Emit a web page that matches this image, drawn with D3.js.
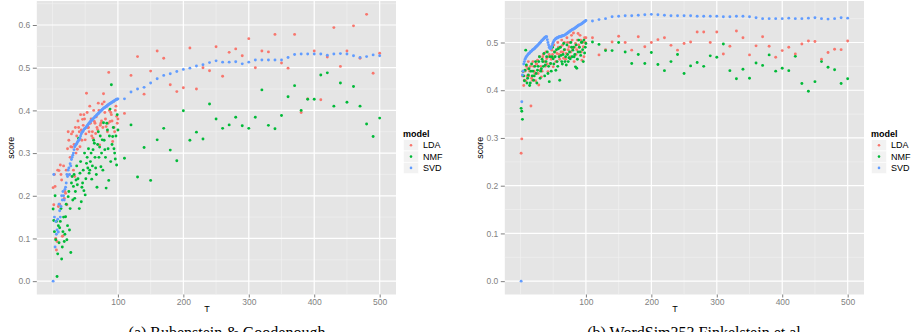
<!DOCTYPE html>
<html>
<head>
<meta charset="utf-8">
<script src="https://cdn.jsdelivr.net/npm/d3@7"></script>
<style>
  body { margin: 0; background: #fff; }
  svg { display: block; }
  .tick text { fill: #7f7f7f; font-size: 8.5px; font-family: "Liberation Sans", Arial, sans-serif; }
  .tick line { stroke: #7f7f7f; }
  .lab { font-family: "Liberation Sans", Arial, sans-serif; font-size: 9px; fill: #000; }
  .cap { font-family: "Liberation Serif", "Times New Roman", serif; font-size: 16px; fill: #000; }
</style>
</head>
<body>
<div id="chart"></div>
<script>
const width = 916
const height = 332

// T values: every 2 up to 100 (plus 1..10), then every 10; odd T values listed separately
const tDense = [1,2,3,4,5,6,7,8,9,10,12,14,16,18,20,22,24,26,28,30,32,34,36,38,40,42,44,46,48,50,
                52,54,56,58,60,62,64,66,68,70,72,74,76,78,80,82,84,86,88,90,92,94,96,98,100]
const tSparse = [110,120,130,140,150,160,170,180,190,200,210,220,230,240,250,260,270,280,290,300,
                 310,320,330,340,350,360,370,380,390,400,410,420,430,440,450,460,470,480,490,500]
const tOdd = [11,13,15,17,19,21,23,25,27,29,31,33,35,37,39,41,43,45,47,49,51,53,55,57,59,
              61,63,65,67,69,71,73,75,77,79,81,83,85,87,89,91,93,95,97,99]
const tValues = tDense.concat(tSparse, tOdd)

const models = ["LDA", "NMF", "SVD"]
const modelColors = ["#F8766D", "#00BA38", "#619CFF"]
const xTicks = [100, 200, 300, 400, 500]
const yTicksA = [0, 0.1, 0.2, 0.3, 0.4, 0.5, 0.6]
const yTicksB = [0, 0.1, 0.2, 0.3, 0.4, 0.5]
const captions = ["(a) Rubenstein & Goodenough", "(b) WordSim353 Finkelstein et al."]

// --- panel (a) ---
const ldaA = [.219,.179,.25,.222,.10,.073,.093,.26,.175,.259,
  .272,.237,.106,.194,.206,.179,.35,.249,.315,.314,
  .26,.245,.30,.309,.36,.315,.354,.379,.39,.331,
  .44,.36,.35,.37,.34,.335,.374,.346,.36,.417,
  .319,.37,.415,.439,.395,.362,.35,.489,.374,.39,
  .327,.36,.40,.386,.38,
  .393,.482,.526,.438,.492,.539,.522,.46,.444,.453,
  .546,.45,.5,.493,.549,.48,.536,.544,.528,.568,
  .5,.539,.537,.578,.511,.499,.578,.395,.427,.539,
  .425,.525,.594,.503,.539,.598,.522,.625,.487,.534]
const ldaAOdd = [.18,.25,.105,.27,.21,.26,.31,.33,.29,.345,.35,.32,.36,.34,.375,
  .35,.39,.33,.365,.38,.345,.395,.36,.41,.38,.35,.4,.37,.385,.355,
  .4,.365,.375,.36,.42,.38,.41,.37,.4,.395,.375,.42,.35,.41,.37]
const nmfA = [.169,.142,.116,.20,.097,.14,.011,.064,.13,.09,
  .14,.052,.116,.093,.151,.097,.198,.12,.067,.245,
  .222,.194,.237,.226,.335,.253,.186,.23,.212,.202,
  .276,.265,.253,.28,.239,.308,.323,.265,.22,.35,
  .314,.268,.331,.371,.308,.218,.354,.236,.403,.46,
  .339,.31,.286,.272,.354,
  .288,.366,.244,.313,.236,.331,.358,.307,.282,.399,
  .33,.349,.333,.415,.38,.358,.366,.384,.364,.358,
  .384,.448,.365,.357,.388,.432,.458,.4,.426,.426,
  .483,.488,.41,.464,.419,.456,.41,.368,.339,.382]
const nmfAOdd = [.125,.17,.08,.15,.11,.18,.13,.21,.17,.23,.19,.25,.21,.27,.24,
  .17,.28,.22,.26,.3,.24,.29,.31,.26,.3,.27,.33,.29,.25,.32,
  .29,.34,.3,.26,.33,.29,.37,.31,.34,.28,.32,.36,.3,.34,.39]
const svdA = [0,.25,.15,.08,.14,.11,.12,.145,.115,.18,
  .15,.2,.21,.19,.22,.25,.26,.25,.27,.29,
  .3,.315,.32,.325,.33,.335,.345,.35,.355,.358,
  .362,.366,.37,.374,.377,.38,.383,.386,.39,.393,
  .396,.399,.402,.405,.407,.409,.412,.414,.416,.418,
  .42,.422,.424,.426,.427,
  .427,.443,.45,.454,.464,.474,.482,.486,.491,.496,
  .499,.504,.507,.512,.516,.513,.513,.514,.509,.513,
  .518,.518,.518,.518,.518,.524,.531,.532,.532,.532,
  .532,.529,.532,.533,.532,.528,.524,.526,.53,.528]
const svdAOdd = [.165,.175,.19,.2,.215,.23,.245,.265,.275,.285,.295,.308,.318,.322,.328,
  .332,.34,.348,.352,.357,.36,.364,.368,.372,.375,.378,.382,.385,.388,.391,
  .394,.397,.4,.403,.406,.408,.41,.413,.415,.417,.419,.421,.423,.425,.426]

// --- panel (b) ---
const ldaB = [.268,.298,.43,.439,.41,.421,.44,.42,.45,.43,
  .46,.44,.367,.421,.45,.435,.455,.463,.411,.442,
  .428,.47,.46,.45,.466,.439,.475,.455,.484,.449,
  .47,.46,.477,.49,.465,.48,.494,.467,.485,.477,
  .5,.491,.47,.515,.487,.46,.498,.485,.519,.49,
  .505,.463,.491,.51,.51,
  .51,.474,.485,.501,.513,.5,.484,.512,.491,.5,
  .506,.51,.494,.484,.498,.501,.522,.522,.5,.522,
  .476,.492,.524,.51,.474,.493,.512,.492,.469,.483,
  .49,.476,.497,.503,.502,.465,.479,.486,.485,.503]
const ldaBOdd = [.445,.43,.45,.425,.46,.44,.42,.455,.435,.47,.45,.44,.475,.46,.48,
  .455,.47,.49,.465,.475,.495,.48,.46,.5,.475,.49,.505,.48,.5,.465,
  .51,.485,.5,.48,.505,.52,.49,.475,.505,.495,.515,.48,.5,.47,.5]
const nmfB = [.362,.356,.339,.44,.43,.42,.442,.484,.453,.415,
  .432,.41,.44,.43,.421,.45,.435,.442,.46,.425,
  .445,.46,.477,.453,.47,.435,.418,.456,.47,.466,
  .48,.442,.46,.487,.421,.473,.455,.498,.46,.453,
  .475,.468,.466,.49,.484,.47,.449,.446,.48,.49,
  .473,.501,.46,.478,.498,
  .501,.496,.483,.483,.5,.48,.456,.475,.456,.479,
  .454,.441,.46,.475,.435,.451,.458,.45,.472,.469,
  .497,.441,.424,.444,.425,.457,.452,.474,.44,.446,
  .441,.471,.414,.398,.418,.46,.448,.443,.414,.424]
const nmfBOdd = [.425,.445,.415,.455,.44,.43,.46,.415,.45,.47,.44,.465,.45,.43,.46,
  .48,.45,.47,.44,.49,.455,.47,.485,.45,.47,.49,.46,.475,.485,.47,
  .495,.46,.48,.5,.47,.49,.475,.495,.465,.505,.48,.5,.485,.505,.49]
const svdB = [0,.376,.432,.44,.455,.46,.465,.468,.47,.472,
  .476,.478,.481,.484,.486,.488,.491,.494,.497,.5,
  .503,.506,.509,.511,.512,.5,.49,.487,.493,.5,
  .505,.508,.51,.511,.512,.513,.514,.515,.516,.518,
  .52,.522,.524,.526,.528,.529,.531,.533,.535,.537,
  .538,.54,.542,.544,.546,
  .545,.548,.55,.554,.555,.556,.556,.557,.558,.559,
  .558,.557,.556,.556,.556,.556,.555,.555,.555,.555,
  .554,.554,.555,.555,.554,.552,.55,.55,.55,.55,
  .551,.55,.55,.551,.552,.55,.549,.55,.552,.551]
const svdBOdd = [.474,.477,.48,.482,.485,.487,.49,.492,.495,.498,.501,.504,.507,.51,.512,
  .506,.495,.488,.49,.497,.503,.507,.509,.51,.512,.512,.513,.514,.515,.517,
  .519,.521,.523,.525,.527,.528,.53,.532,.534,.536,.537,.539,.541,.543,.545]

const svg = d3.select("#chart")
              .append("svg")
                .attr("width", width)
                .attr("height", height)

// ggplot style 5% expansion of the data range
const expand = ext => {
  const pad = (ext[1] - ext[0]) * 0.05
  return [ext[0] - pad, ext[1] + pad]
}

const drawPanel = (p) => {
  const allY = p.series.flat()
  const xScale = d3.scaleLinear()
                   .domain(expand(d3.extent(tValues)))
                   .range([p.left, p.right])
  const yScale = d3.scaleLinear()
                   .domain(expand(d3.extent(allY)))
                   .range([p.bottom, p.top])

  const g = svg.append("g")

  // panel background
  g.append("rect")
   .attr("x", p.left)
   .attr("y", p.top)
   .attr("width", p.right - p.left)
   .attr("height", p.bottom - p.top)
   .attr("fill", "#E5E5E5")

  // minor grid
  const xMinor = [0, 50, 150, 250, 350, 450]
  const yMinor = p.yTicks.map(d => d + 0.05)
                  .filter(d => d >= yScale.domain()[0] && d <= yScale.domain()[1])
  g.selectAll(".xminor").data(xMinor).join("line")
   .attr("x1", d => xScale(d)).attr("x2", d => xScale(d))
   .attr("y1", p.top).attr("y2", p.bottom)
   .attr("stroke", "#F2F2F2").attr("stroke-width", 0.6)
  g.selectAll(".yminor").data(yMinor).join("line")
   .attr("y1", d => yScale(d)).attr("y2", d => yScale(d))
   .attr("x1", p.left).attr("x2", p.right)
   .attr("stroke", "#F2F2F2").attr("stroke-width", 0.6)

  // major grid
  g.selectAll(".xmajor").data(xTicks).join("line")
   .attr("x1", d => xScale(d)).attr("x2", d => xScale(d))
   .attr("y1", p.top).attr("y2", p.bottom)
   .attr("stroke", "#fff").attr("stroke-width", 1.2)
  g.selectAll(".ymajor").data(p.yTicks).join("line")
   .attr("y1", d => yScale(d)).attr("y2", d => yScale(d))
   .attr("x1", p.left).attr("x2", p.right)
   .attr("stroke", "#fff").attr("stroke-width", 1.2)

  // points, drawn model by model
  p.series.forEach((vals, i) => {
    g.append("g")
     .selectAll("circle")
     .data(vals.map((v, j) => ({t: tValues[j], s: v})))
     .join("circle")
       .attr("cx", d => xScale(d.t))
       .attr("cy", d => yScale(d.s))
       .attr("r", 1.45)
       .attr("fill", modelColors[i])
  })

  // axes
  const xAxis = d3.axisBottom(xScale).tickValues(xTicks).tickSize(3).tickPadding(1.5)
  const yAxis = d3.axisLeft(yScale).tickValues(p.yTicks).tickFormat(d3.format(".1f")).tickSize(4).tickPadding(2.5)

  g.append("g")
   .attr("transform", `translate(0, ${p.bottom})`)
   .call(xAxis)
   .call(a => a.select(".domain").remove())
  g.append("g")
   .attr("transform", `translate(${p.left}, 0)`)
   .call(yAxis)
   .call(a => a.select(".domain").remove())

  // axis titles
  g.append("text").attr("class", "lab")
   .attr("x", p.xTitleX).attr("y", 312)
   .attr("text-anchor", "middle")
   .text("T")
  g.append("text").attr("class", "lab")
   .attr("transform", `translate(${p.yTitleX}, ${(p.top + p.bottom) / 2}) rotate(-90)`)
   .attr("text-anchor", "middle")
   .text("score")

  // legend
  const lg = g.append("g").attr("transform", `translate(${p.legendX}, 0)`)
  lg.append("text").attr("class", "lab")
    .attr("x", 0).attr("y", 137)
    .attr("font-weight", "bold").attr("font-size", "8.5px")
    .text("model")
  models.forEach((m, i) => {
    const cy = 145.3 + i * 11.3
    lg.append("rect")
      .attr("x", 0.5).attr("y", cy - 5.6)
      .attr("width", 15).attr("height", 11.2)
      .attr("fill", "#F2F2F2").attr("stroke", "#fff").attr("stroke-width", 0.6)
    lg.append("circle")
      .attr("cx", 8).attr("cy", cy).attr("r", 1.3)
      .attr("fill", modelColors[i])
    lg.append("text").attr("class", "lab")
      .attr("x", 20).attr("y", cy + 3)
      .attr("font-size", "8.5px")
      .text(m)
  })

  // caption (runs off the bottom edge, as in the source figure)
  svg.append("text").attr("class", "cap")
     .attr("x", p.captionX).attr("y", 338)
     .attr("text-anchor", "middle")
     .text(p.caption)
}

drawPanel({
  series: [ldaA.concat(ldaAOdd), nmfA.concat(nmfAOdd), svdA.concat(svdAOdd)], yTicks: yTicksA,
  left: 36.8, right: 396, top: 1, bottom: 294.5,
  xTitleX: 207, yTitleX: 14, legendX: 403,
  caption: captions[0], captionX: 227
})

drawPanel({
  series: [ldaB.concat(ldaBOdd), nmfB.concat(nmfBOdd), svdB.concat(svdBOdd)], yTicks: yTicksB,
  left: 504.8, right: 864, top: 1, bottom: 294.5,
  xTitleX: 675, yTitleX: 482.5, legendX: 871,
  caption: captions[1], captionX: 696
})
</script>
</body>
</html>
